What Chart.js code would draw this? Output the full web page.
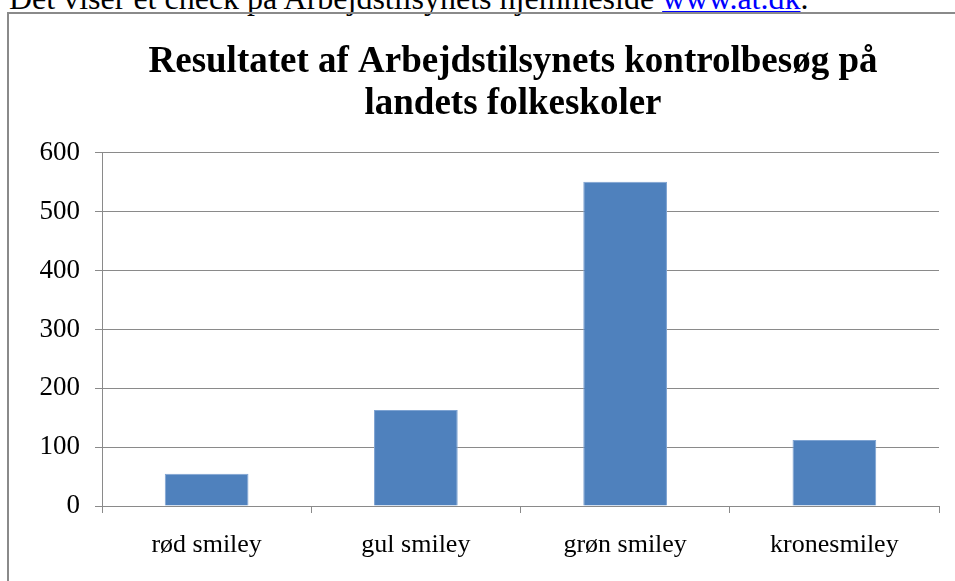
<!DOCTYPE html>
<html>
<head>
<meta charset="utf-8">
<script src="https://cdn.jsdelivr.net/npm/chart.js@4"></script>
<style>
  html, body { margin: 0; padding: 0; background: #fff; }
  body { width: 955px; height: 581px; overflow: hidden; position: relative; }
  #intro {
    position: absolute; left: 9px; top: -18px;
    font-family: "Liberation Serif", "Times New Roman", serif;
    font-size: 32px; line-height: 32px; white-space: nowrap; color: #000;
  }
  #intro a { color: #0000ff; }
  #box {
    position: absolute; left: 7px; top: 12px;
    width: 1008px; height: 600px;
    border: 2px solid #8a8a8a;
  }
  #box canvas { display: block; }
</style>
</head>
<body>
<div id="intro">Det viser et check på Arbejdstilsynets hjemmeside <a href="#">www.at.dk</a>.</div>
<div id="box"><canvas id="chart" width="1008" height="567"></canvas></div>
<script>
const categories = ['rød smiley', 'gul smiley', 'grøn smiley', 'kronesmiley'];
const visits = [55, 163, 551, 112];
const yTicks = [0, 100, 200, 300, 400, 500, 600];

const serif = '"Liberation Serif", "Times New Roman", serif';
const gridGray = '#8a8a8a';

const ctx = document.getElementById('chart').getContext('2d');
const chart = new Chart(ctx, {
    type: 'bar',
    data: {
        labels: categories,
        datasets: [{
            data: visits,
            backgroundColor: '#4f81bd',
            borderColor: '#7ea3d2',
            borderWidth: 1,
            categoryPercentage: 1.0,
            barPercentage: 0.4
        }]
    },
    options: {
        responsive: false,
        animation: false,
        layout: { padding: 0 },
        plugins: {
            legend: { display: false },
            tooltip: { enabled: false },
            title: {
                display: true,
                text: ['Resultatet af Arbejdstilsynets kontrolbesøg på', 'landets folkeskoler'],
                color: '#000',
                font: { family: serif, size: 37, weight: 'bold', lineHeight: 1.135 },
                padding: { top: 27, bottom: 28 }
            }
        },
        scales: {
            x: {
                grid: { drawOnChartArea: false, drawTicks: true, tickLength: 7, color: gridGray, offset: true },
                border: { color: gridGray, width: 1 },
                ticks: { color: '#000', font: { family: serif, size: 26 }, padding: 17, maxRotation: 0 },
                afterFit: scale => { scale.height = 75; }
            },
            y: {
                min: 0,
                max: 600,
                afterBuildTicks: scale => { scale.ticks = yTicks.map(v => ({ value: v })); },
                grid: { color: gridGray, tickLength: 7 },
                border: { color: gridGray, width: 1 },
                ticks: { color: '#000', font: { family: serif, size: 27 }, padding: 15 },
                afterFit: scale => { scale.width = 93; }
            },
            // empty space to the right of the plot area (the chart frame runs past the crop)
            yRight: {
                type: 'linear',
                position: 'right',
                grid: { display: false },
                border: { display: false },
                ticks: { display: false },
                afterFit: scale => { scale.width = 78; }
            }
        }
    }
});
</script>
</body>
</html>
